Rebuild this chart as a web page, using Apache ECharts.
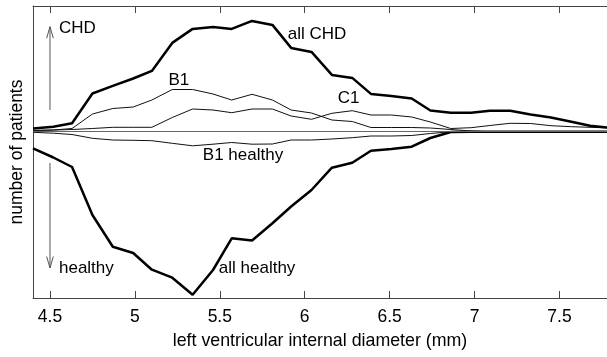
<!DOCTYPE html>
<html><head><meta charset="utf-8">
<script src="https://cdn.jsdelivr.net/npm/echarts@6/dist/echarts.min.js"></script>
<style>html,body{margin:0;padding:0;background:#fff}#c{width:607px;height:357px}</style>
</head><body><div id="c"></div>
<script>
const diameters = [4.40,4.52,4.63,4.75,4.87,4.99,5.10,5.22,5.34,5.46,5.57,5.69,5.81,5.92,6.04,6.16,6.28,6.39,6.51,6.63,6.74,6.86,6.98,7.09,7.21,7.33,7.45,7.57,7.68,7.80];
const allCHD = [1.6,2.5,4.2,19.1,22.9,26.6,30.4,44.4,51.4,52.4,51.4,55.4,53.4,41.9,39.9,28.4,26.9,18.9,17.9,16.6,10.6,9.5,9.5,10.5,10.5,8.6,7.1,5.0,3.0,1.9];
const b1 = [0.6,0.85,1.6,8.85,11.6,12.35,15.85,21.1,21.1,18.85,15.85,18.7,15.85,10.85,9.35,5.85,5.1,2.1,2.1,2.1,1.85,1.1,0.35,0,0,0,0,0,0,0];
const c1 = [0.6,0.85,1.1,1.6,2.2,2.2,2.2,7.1,11.35,10.85,9.5,11.35,11.35,7.85,6.2,9.2,10.5,8.35,8.35,7.35,4.85,1.6,2.0,3.1,4.2,4.1,3.0,2.5,2.2,1.85];
const b1Healthy = [-0.3,-0.75,-1.4,-3.3,-4.15,-4.3,-4.5,-5.8,-7.05,-6.25,-5.4,-6.25,-6.15,-4.15,-4.15,-3.65,-3.0,-2.15,-2.15,-1.9,-0.9,0,0,0,0,0,0,0,0,0];
const allHealthy = [-8.3,-12.9,-17.65,-41.65,-57.5,-60.65,-69.0,-73.0,-81.5,-69.15,-53.3,-54.4,-45.8,-37.4,-29.15,-18.0,-15.5,-9.5,-8.65,-7.5,-3.15,-0.15,0,0,0,0,0,0,0,0];
const xTicks = [4.5,5,5.5,6,6.5,7,7.5];
const labelTexts = ['CHD','healthy','B1','all CHD','C1','B1 healthy','all healthy'];
const labelX = [4.553,4.553,5.259,5.90,6.259,5.40,5.494];
const labelY = [51.85,-68.15,25.85,48.85,16.85,-11.65,-68.15];
const labelAlign = ['left','left','center','left','center','left','left'];
const arrowX = [4.5,4.5];
const arrowFrom = [10.85,-15.65];
const arrowTo = [52.5,-68.15];

const FONT = "'Liberation Sans', Arial, sans-serif";
const pairs = arr => arr.map((v,i)=>[diameters[i], v]);

const chart = echarts.init(document.getElementById('c'), null, {renderer:'canvas'});
const axisColor = '#444';
const option = {
  animation:false,
  backgroundColor:'#fff',
  grid:{left:32, top:6, right:0, bottom:59, containLabel:false},
  xAxis:[{
    type:'value', position:'bottom', min:4.4, max:7.78,
    axisLine:{show:true, onZero:false, lineStyle:{color:axisColor, width:1}},
    axisTick:{show:true, inside:true, length:7, customValues:xTicks, lineStyle:{color:axisColor}},
    axisLabel:{show:true, customValues:xTicks, margin:10, fontSize:17.5, color:'#000', fontFamily:FONT},
    splitLine:{show:false},
    name:'left ventricular internal diameter (mm)', nameLocation:'middle', nameGap:34,
    nameTextStyle:{fontSize:17.8, color:'#000', fontFamily:FONT}
  },{
    type:'value', position:'top', min:4.4, max:7.78,
    axisLine:{show:true, onZero:false, lineStyle:{color:axisColor, width:1}},
    axisTick:{show:true, inside:true, length:7, customValues:xTicks, lineStyle:{color:axisColor}},
    axisLabel:{show:false}, splitLine:{show:false}
  }],
  yAxis:{
    type:'value', min:-83.15, max:62.85,
    axisLine:{show:true, onZero:false, lineStyle:{color:axisColor, width:1}},
    axisTick:{show:false}, axisLabel:{show:false}, splitLine:{show:false},
    name:'number of patients', nameLocation:'middle', nameRotate:90, nameGap:7,
    nameTextStyle:{fontSize:17.5, color:'#000', fontFamily:FONT}
  },
  series:[
    {type:'line', data:pairs(b1Healthy), showSymbol:false, lineStyle:{color:'#111', width:1},
     markLine:{silent:true, symbol:['none','none'], label:{show:false}, lineStyle:{color:'#666', width:1, type:'solid'}, data:[{yAxis:0}]}},
    {type:'line', data:pairs(b1), showSymbol:false, lineStyle:{color:'#111', width:1}},
    {type:'line', data:pairs(c1), showSymbol:false, lineStyle:{color:'#111', width:1}},
    {type:'line', data:pairs(allCHD), showSymbol:false, lineStyle:{color:'#000', width:2.5}},
    {type:'line', data:pairs(allHealthy), showSymbol:false, lineStyle:{color:'#000', width:2.5}},
    {type:'custom', silent:true, clip:false,
     data:arrowX.map((x,i)=>[x, arrowFrom[i], arrowTo[i]]),
     renderItem:(params, api)=>{
       const p0 = api.coord([api.value(0), api.value(1)]);
       const p1 = api.coord([api.value(0), api.value(2)]);
       const dir = p1[1] < p0[1] ? 1 : -1;
       return {type:'group', children:[
         {type:'line', shape:{x1:p0[0], y1:p0[1], x2:p1[0], y2:p1[1]}, style:{stroke:'#555', lineWidth:1}},
         {type:'polyline', shape:{points:[[p1[0]-3.3, p1[1]+dir*11.5],[p1[0],p1[1]],[p1[0]+3.3, p1[1]+dir*11.5]]}, style:{stroke:'#555', lineWidth:1, fill:null}}
       ]};
     }},
    {type:'custom', silent:true, clip:false,
     data:labelTexts.map((t,i)=>[labelX[i], labelY[i], i]),
     renderItem:(params, api)=>{
       const i = api.value(2);
       const p = api.coord([api.value(0), api.value(1)]);
       return {type:'text', x:p[0], y:p[1], style:{text:labelTexts[i], fontSize:17, fontFamily:FONT, fill:'#000', align:labelAlign[i], verticalAlign:'middle'}};
     }}
  ]
};
chart.setOption(option);
</script>
</body></html>
